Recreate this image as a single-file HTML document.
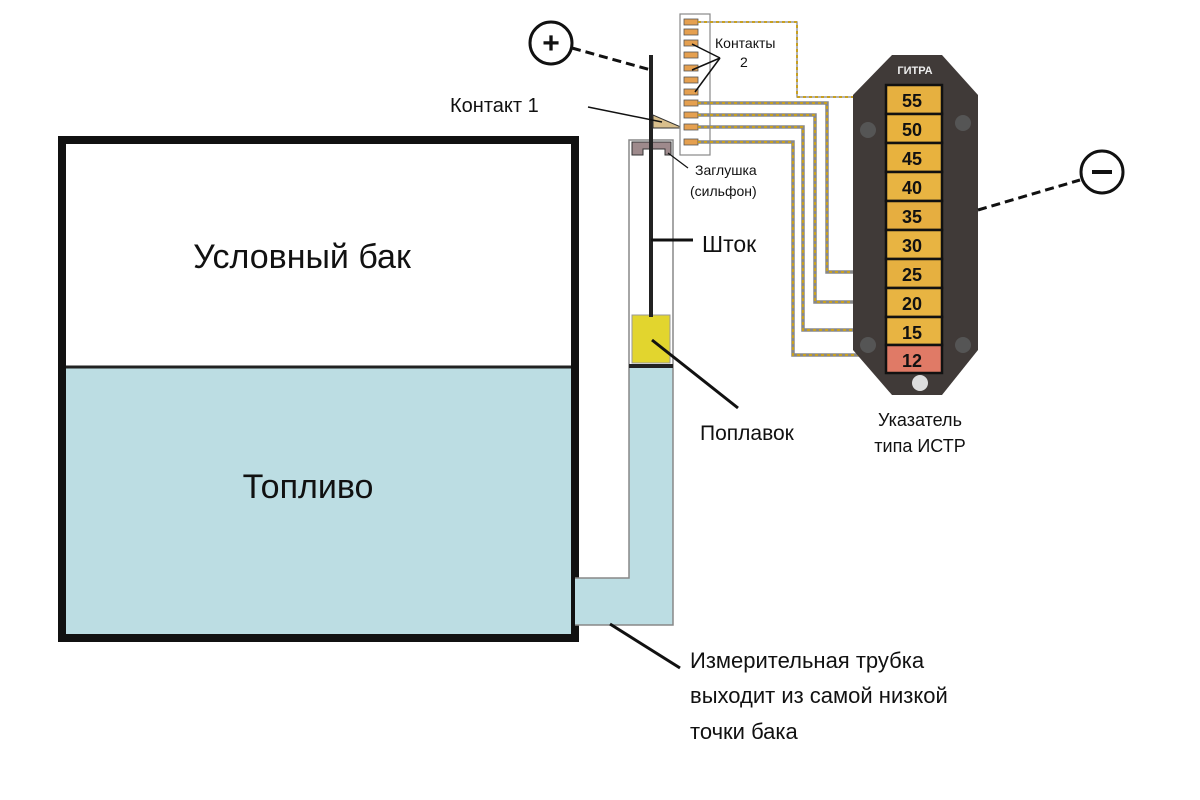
<!DOCTYPE html>
<html><head><meta charset="utf-8"><style>
html,body{margin:0;padding:0;background:#fff;width:1200px;height:800px;overflow:hidden}
svg text{font-family:"Liberation Sans",sans-serif;fill:#111}
</style></head><body>
<svg width="1200" height="800" viewBox="0 0 1200 800">
<!-- tank water -->
<rect x="66" y="367" width="505" height="270" fill="#bcdde3"/>
<rect x="62" y="140" width="513" height="498" fill="none" stroke="#111" stroke-width="8"/>
<line x1="66" y1="367" x2="571" y2="367" stroke="#222" stroke-width="3"/>
<!-- tube -->
<path d="M575 578 H629 V367 H673 V625 H575 Z" fill="#bcdde3"/>
<path d="M575 578 H629 V140 H673 V625 H575" fill="none" stroke="#888" stroke-width="1.5"/>
<line x1="629" y1="366" x2="673" y2="366" stroke="#222" stroke-width="4"/>
<rect x="632" y="315" width="38" height="48" fill="#e2d52e" stroke="#999" stroke-width="1"/>
<!-- cap -->
<path d="M632 142 H671 V155 H665 V149 H643 V155 H632 Z" fill="#9e8a8c" stroke="#333" stroke-width="1"/>
<!-- rod -->
<line x1="651" y1="55" x2="651" y2="317" stroke="#222" stroke-width="4"/>
<!-- contact 1 triangle -->
<path d="M653 115 L653 128 L683 128 Z" fill="#d9bf8c" stroke="#333" stroke-width="1"/>
<!-- plus -->
<circle cx="551" cy="43" r="21" fill="#fff" stroke="#111" stroke-width="3"/>
<text x="551" y="53" font-size="30" font-weight="bold" text-anchor="middle">+</text>
<line x1="572" y1="48" x2="651" y2="70" stroke="#111" stroke-width="3" stroke-dasharray="9,5"/>
<!-- contact strip -->
<rect x="680" y="14" width="30" height="141" fill="#fff" stroke="#888" stroke-width="1.2"/>
<g fill="#e5a050" stroke="#555" stroke-width="0.8">
<rect x="684" y="19" width="14" height="6"/><rect x="684" y="29" width="14" height="6"/><rect x="684" y="40" width="14" height="6"/><rect x="684" y="52" width="14" height="6"/><rect x="684" y="65" width="14" height="6"/><rect x="684" y="77" width="14" height="6"/><rect x="684" y="89" width="14" height="6"/><rect x="684" y="100" width="14" height="6"/><rect x="684" y="112" width="14" height="6"/><rect x="684" y="124" width="14" height="6"/><rect x="684" y="139" width="14" height="6"/>
</g>
<!-- wires -->
<g fill="none" stroke-width="3.5">
<path id="w1" d="M698 22 H797 V97 H856" stroke="#999" stroke-width="1.5"/>
<path d="M698 103 H827 V272 H897" stroke="#888"/>
<path d="M698 115 H815 V302 H897" stroke="#888"/>
<path d="M698 127 H803 V330 H880" stroke="#888"/>
<path d="M698 142 H793 V355 H860" stroke="#888"/>
</g>
<g fill="none" stroke="#c8a020" stroke-width="2" stroke-dasharray="3,3">
<path d="M698 22 H797 V97 H856"/>
<path d="M698 103 H827 V272 H897"/>
<path d="M698 115 H815 V302 H897"/>
<path d="M698 127 H803 V330 H880"/>
<path d="M698 142 H793 V355 H860"/>
</g>
<!-- indicator -->
<path d="M892 55 H942 L978 95 V350 L942 395 H892 L853 350 V95 Z" fill="#403a38"/>
<text x="915" y="74" font-size="11" font-weight="bold" text-anchor="middle" style="fill:#eee">ГИТРА</text>
<g stroke="#111" stroke-width="2.5">
<rect x="886" y="85" width="56" height="29" fill="#e6b040"/>
<rect x="886" y="114" width="56" height="29" fill="#e8b23e"/>
<rect x="886" y="143" width="56" height="29" fill="#e8b23e"/>
<rect x="886" y="172" width="56" height="29" fill="#e8b442"/>
<rect x="886" y="201" width="56" height="29" fill="#e6ae40"/>
<rect x="886" y="230" width="56" height="29" fill="#e8b442"/>
<rect x="886" y="259" width="56" height="29" fill="#e6b040"/>
<rect x="886" y="288" width="56" height="29" fill="#e8b442"/>
<rect x="886" y="317" width="56" height="28" fill="#e8b442"/>
<rect x="886" y="345" width="56" height="28" fill="#e07a66"/>
</g>
<g font-size="18" font-weight="bold" text-anchor="middle" style="fill:#332">
<text x="912" y="107">55</text><text x="912" y="136">50</text><text x="912" y="165">45</text><text x="912" y="194">40</text><text x="912" y="223">35</text><text x="912" y="252">30</text><text x="912" y="281">25</text><text x="912" y="310">20</text><text x="912" y="339">15</text><text x="912" y="367">12</text>
</g>
<g fill="#555"><circle cx="868" cy="130" r="8"/><circle cx="963" cy="123" r="8"/><circle cx="868" cy="345" r="8"/><circle cx="963" cy="345" r="8"/><circle cx="920" cy="383" r="8" fill="#ddd"/></g>
<!-- minus -->
<line x1="978" y1="210" x2="1080" y2="180" stroke="#111" stroke-width="3" stroke-dasharray="9,5"/>
<circle cx="1102" cy="172" r="21" fill="#fff" stroke="#111" stroke-width="3"/>
<line x1="1092" y1="172" x2="1112" y2="172" stroke="#111" stroke-width="4"/>
<!-- leaders -->
<g stroke="#111" fill="none">
<line x1="588" y1="107" x2="662" y2="122" stroke-width="1.5"/>
<line x1="720" y1="58" x2="692" y2="44" stroke-width="1.5"/>
<line x1="720" y1="58" x2="692" y2="70" stroke-width="1.5"/>
<line x1="720" y1="58" x2="695" y2="92" stroke-width="1.5"/>
<line x1="668" y1="153" x2="688" y2="168" stroke-width="1.2"/>
<line x1="651" y1="240" x2="693" y2="240" stroke-width="3"/>
<line x1="652" y1="340" x2="738" y2="408" stroke-width="3"/>
<line x1="610" y1="624" x2="680" y2="668" stroke-width="3"/>
</g>
<!-- texts -->
<text x="302" y="268" font-size="34" text-anchor="middle">Условный бак</text>
<text x="308" y="498" font-size="34" text-anchor="middle">Топливо</text>
<text x="450" y="112" font-size="20">Контакт 1</text>
<text x="715" y="48" font-size="14">Контакты</text>
<text x="740" y="67" font-size="14">2</text>
<text x="695" y="175" font-size="14">Заглушка</text>
<text x="690" y="196" font-size="14">(сильфон)</text>
<text x="702" y="252" font-size="23">Шток</text>
<text x="700" y="440" font-size="21">Поплавок</text>
<text x="920" y="426" font-size="18" text-anchor="middle">Указатель</text>
<text x="920" y="452" font-size="18" text-anchor="middle">типа ИСТР</text>
<text x="690" y="668" font-size="22">Измерительная трубка</text>
<text x="690" y="703" font-size="22">выходит из самой низкой</text>
<text x="690" y="739" font-size="22">точки бака</text>
</svg>
</body></html>
